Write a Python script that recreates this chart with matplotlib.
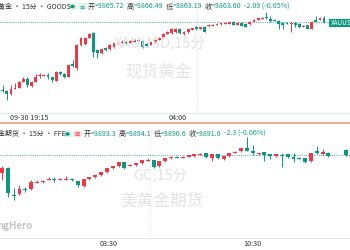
import numpy as np
import matplotlib
matplotlib.use('Agg')
import matplotlib.pyplot as plt
from matplotlib.patches import Rectangle, FancyBboxPatch, Circle
from matplotlib.lines import Line2D

plt.rcParams['font.family'] = ['Noto Sans CJK SC', 'DejaVu Sans']

# ---------------- data: spot gold XAUUSD 15min ----------------
spot_open = [3829.6, 3829.1, 3827.6, 3830.35, 3830.6, 3833.6, 3835.1, 3831.6, 3833.6, 3836.35,
             3836.7, 3837.1, 3835.85, 3834.1, 3838.6, 3837.35, 3836.1, 3842.35, 3840.6, 3852.1,
             3852.6, 3855.6, 3858.1, 3849.6, 3848.1, 3850.35, 3850.1, 3851.1, 3852.85, 3853.2,
             3853.6, 3853.1, 3853.85, 3854.1, 3854.1, 3852.6, 3852.1, 3853.1, 3854.6, 3855.85,
             3857.6, 3858.1, 3858.6, 3859.85, 3857.6, 3858.35, 3859.6, 3861.1, 3860.1, 3861.1,
             3861.35, 3861.85, 3862.35, 3862.35, 3862.6, 3862.6, 3863.6, 3862.1, 3863.1, 3862.6,
             3862.35, 3863.6, 3864.6, 3865.1, 3866.1, 3865.1, 3864.6, 3864.1, 3863.1, 3863.1,
             3862.35, 3863.1, 3862.6, 3861.1, 3861.85, 3860.1, 3864.6, 3864.6, 3865.72]
spot_close = [3829.1, 3827.6, 3830.1, 3830.6, 3833.6, 3835.1, 3832.1, 3833.6, 3836.1, 3836.85,
              3837.0, 3835.85, 3834.35, 3838.6, 3837.35, 3836.1, 3842.1, 3841.6, 3852.1, 3855.6,
              3855.35, 3857.6, 3848.6, 3848.1, 3850.1, 3849.6, 3852.1, 3852.85, 3853.35, 3853.6,
              3853.1, 3853.85, 3854.1, 3854.6, 3851.1, 3851.6, 3853.35, 3854.6, 3855.6, 3857.6,
              3858.6, 3860.1, 3859.85, 3858.1, 3858.6, 3859.85, 3860.35, 3860.1, 3860.85, 3858.6,
              3862.1, 3862.1, 3862.6, 3862.85, 3863.1, 3863.35, 3862.1, 3863.1, 3861.6, 3861.1,
              3863.6, 3864.6, 3865.35, 3865.6, 3865.35, 3864.1, 3864.1, 3862.6, 3862.1, 3862.7,
              3863.1, 3862.1, 3861.1, 3861.6, 3860.1, 3863.6, 3863.6, 3865.6, 3863.60]
spot_high = [3832.1, 3829.6, 3832.1, 3833.1, 3834.1, 3836.1, 3836.1, 3834.1, 3837.6, 3838.1,
             3837.6, 3838.1, 3836.1, 3839.1, 3839.1, 3838.1, 3842.6, 3844.6, 3852.6, 3856.1,
             3856.1, 3858.1, 3858.6, 3850.1, 3850.6, 3851.1, 3852.6, 3853.1, 3853.6, 3854.6,
             3854.1, 3854.6, 3855.1, 3855.1, 3854.6, 3853.1, 3853.6, 3855.1, 3856.1, 3858.1,
             3859.1, 3860.6, 3860.6, 3860.6, 3859.1, 3860.1, 3860.6, 3861.35, 3861.1, 3861.6,
             3862.35, 3862.35, 3862.85, 3863.1, 3863.35, 3863.6, 3863.85, 3863.35, 3863.35, 3862.85,
             3863.85, 3864.85, 3865.6, 3866.1, 3868.6, 3866.6, 3864.85, 3864.35, 3863.35, 3863.35,
             3863.6, 3863.35, 3862.85, 3861.85, 3862.1, 3863.85, 3866.6, 3866.1, 3866.49]
spot_low = [3828.6, 3824.6, 3827.1, 3830.1, 3830.35, 3833.35, 3831.1, 3831.1, 3833.35, 3835.6,
            3836.6, 3835.1, 3833.6, 3833.85, 3837.1, 3835.6, 3835.85, 3841.1, 3839.6, 3851.6,
            3852.1, 3855.35, 3846.1, 3845.6, 3847.6, 3849.1, 3849.6, 3850.6, 3852.6, 3853.1,
            3852.6, 3852.85, 3853.6, 3853.85, 3850.6, 3851.1, 3851.85, 3852.85, 3854.35, 3855.6,
            3857.35, 3857.6, 3858.1, 3857.6, 3857.1, 3858.1, 3859.35, 3859.6, 3859.85, 3858.35,
            3861.1, 3861.6, 3862.1, 3862.1, 3862.35, 3862.35, 3861.85, 3861.85, 3861.35, 3860.85,
            3862.1, 3863.35, 3864.35, 3864.85, 3865.1, 3863.6, 3863.85, 3860.1, 3860.1, 3862.6,
            3858.6, 3861.1, 3860.35, 3860.85, 3859.85, 3859.85, 3863.35, 3864.35, 3863.19]

# ---------------- data: COMEX gold GC 15min (nan = no trading) ----------------
nan = float('nan')
fut_open = [3882.0, 3884.5, 3871.25, 3871.5, 3874.0, 3874.0, 3877.25, 3877.5, 3878.75, 3879.25,
            3878.75, 3878.75, 3879.25, 3878.0, 3875.5, 3879.0, 3880.0, 3881.0, 3882.5, 3884.5,
            3885.5, 3887.5, 3885.75, 3886.0, 3887.0, 3888.25, 3888.5, 3885.5, 3888.0, 3889.5,
            3890.25, 3889.75, 3890.25, 3890.5, 3891.25, 3892.0, 3889.5, 3891.5, 3889.0, 3890.5,
            3892.25, 3893.0, 3894.5, 3893.25, 3891.5, 3892.5, 3891.5, 3890.5, 3891.25, 3891.5,
            3890.0, 3889.75, 3889.5, 3888.0, 3893.0, 3891.5, 3892.25, nan, nan, 3893.3]
fut_close = [3884.5, 3872.0, 3870.5, 3874.0, 3873.5, 3877.5, 3877.75, 3878.25, 3879.0, 3878.75,
             3879.25, 3879.25, 3878.75, 3876.0, 3879.0, 3880.0, 3881.0, 3882.5, 3884.5, 3885.5,
             3887.5, 3884.5, 3886.25, 3887.0, 3888.5, 3888.5, 3885.0, 3888.0, 3889.5, 3890.0,
             3889.75, 3890.25, 3891.0, 3891.5, 3891.75, 3890.0, 3891.5, 3889.5, 3890.5, 3892.0,
             3892.75, 3894.5, 3893.25, 3892.25, 3892.0, 3891.0, 3890.5, 3891.5, 3890.75, 3890.0,
             3889.0, 3889.25, 3887.5, 3892.0, 3892.0, 3892.5, 3890.5, nan, nan, 3891.0]
fut_high = [3885.5, 3885.0, 3874.5, 3876.0, 3875.0, 3878.5, 3878.5, 3878.5, 3880.0, 3880.25,
            3879.5, 3880.5, 3879.5, 3878.25, 3879.25, 3880.25, 3881.25, 3882.75, 3884.75, 3885.75,
            3887.75, 3887.75, 3886.5, 3887.25, 3888.75, 3889.5, 3888.75, 3888.25, 3889.75, 3890.25,
            3890.5, 3890.5, 3891.0, 3891.75, 3892.0, 3892.25, 3891.75, 3891.75, 3890.75, 3892.25,
            3893.0, 3894.75, 3900.0, 3896.0, 3892.25, 3892.75, 3891.75, 3891.75, 3892.0, 3891.75,
            3892.0, 3890.0, 3889.75, 3892.25, 3895.5, 3894.0, 3892.5, nan, nan, 3894.1]
fut_low = [3878.5, 3870.0, 3868.5, 3871.25, 3872.5, 3873.75, 3877.0, 3877.25, 3878.5, 3877.75,
           3878.5, 3878.5, 3878.25, 3875.0, 3875.25, 3878.75, 3879.75, 3880.75, 3882.25, 3884.25,
           3885.25, 3884.25, 3885.5, 3885.75, 3886.75, 3888.0, 3884.75, 3885.25, 3887.75, 3889.25,
           3889.5, 3889.5, 3890.0, 3890.25, 3891.0, 3889.75, 3888.0, 3889.25, 3888.75, 3890.25,
           3892.0, 3892.75, 3893.0, 3891.0, 3891.25, 3888.0, 3889.0, 3890.25, 3885.0, 3889.75,
           3887.75, 3889.0, 3887.25, 3887.75, 3891.75, 3891.25, 3890.25, nan, nan, 3890.6]

spot_title = "黄金 • 15分 • GOODS"
fut_title = "金期货 • 15分 • FFE"
spot_ohlc = ["3865.72", "3866.49", "3863.19", "3863.60"]
fut_ohlc = ["3893.3", "3894.1", "3890.6", "3891.0"]
spot_chg = "-2.09 (-0.05%)"
fut_chg = "-2.3 (-0.06%)"
ohlc_names = ["开", "高", "低", "收"]
spot_ticks = ["09-30 19:15", "04:00"]
fut_ticks = ["03:30", "10:30"]

UP = '#F23645'
DN = '#089981'
TXT = '#333333'
WM = '#E3E3E3'
HFS = 5.1

W, H = 350, 250
def fx(px):
    return px / W
def fy(py):
    return 1 - py / H

fig = plt.figure(figsize=(3.5, 2.5), dpi=100)
fig.patch.set_facecolor('white')
renderer = fig.canvas.get_renderer()

def width_px(t):
    bb = t.get_window_extent(renderer=renderer)
    return bb.width

def draw_candles(ax, o, h, l, c, w=0.68):
    for i, (oo, hh, ll, cc) in enumerate(zip(o, h, l, c)):
        if np.isnan(oo):
            continue
        col = UP if cc >= oo else DN
        ax.vlines(i, ll, hh, color=col, lw=0.7, zorder=3)
        hgt = max(abs(cc - oo), 0.3)
        ax.bar(i, hgt, bottom=min(oo, cc) - (hgt - abs(cc - oo)) / 2, width=w,
               color=col, linewidth=0, zorder=4)

def setup(ax):
    ax.set_facecolor('none')
    for s in ax.spines.values():
        s.set_visible(False)
    ax.set_xticks([])
    ax.set_yticks([])

# ---------------- top panel ----------------
ax1 = fig.add_axes([0, fy(112), 1, 112 / H])
setup(ax1)
sp1 = 4.12
ax1.set_xlim(-2.7 / sp1, (W - 2.7) / sp1)
ax1.set_ylim(3874.6 - 112 / 2, 3874.6)
draw_candles(ax1, spot_open, spot_high, spot_low, spot_close)
last1 = float(spot_close[-1])
ax1.plot([ax1.get_xlim()[0], (330 - 2.7) / sp1], [last1, last1], color=DN, lw=0.6,
         ls=(0, (1, 1.6)), zorder=2)
ax1.axvline((197 - 2.7) / sp1, color='#DDDDDD', lw=0.5, ls=(0, (2, 2)), zorder=1)

# ---------------- bottom panel ----------------
ax2 = fig.add_axes([0, fy(237), 1, 115 / H])
setup(ax2)
sp2 = 5.83
ax2.set_xlim(-2 / sp2, (W - 2) / sp2)
ax2.set_ylim(3968.5 - 237 / 2, 3968.5 - 122 / 2)
draw_candles(ax2, fut_open, fut_high, fut_low, fut_close)
last2 = float(fut_close[-1])
ax2.axhline(last2, color=DN, lw=0.6, ls=(0, (1, 1.6)), zorder=2)
ax2.axvline((150 - 2) / sp2, color='#DDDDDD', lw=0.5, ls=(0, (2, 2)), zorder=1)

# ---------------- lines ----------------
fig.add_artist(Line2D([0, 1], [fy(112.5), fy(112.5)], color='#E6E6E6', lw=0.7))
fig.add_artist(Line2D([0, 1], [fy(122.5), fy(122.5)], color='#F2A58A', lw=1.3))
fig.add_artist(Line2D([0, 1], [fy(237.5), fy(237.5)], color='#E6E6E6', lw=0.7))

# ---------------- watermarks ----------------
fig.text(fx(160), fy(43), "XAUUSD,15分", fontsize=10.5, color=WM, ha='center', va='center', zorder=1)
fig.text(fx(159), fy(72), "现货黄金", fontsize=12, color=WM, ha='center', va='center', zorder=1)
fig.text(fx(160), fy(175), "GC,15分", fontsize=10.5, color=WM, ha='center', va='center', zorder=1)
fig.text(fx(162), fy(201), "美黄金期货", fontsize=12, color=WM, ha='center', va='center', zorder=1)
fig.text(fx(33), fy(226), "ngHero", fontsize=7, color='#C4C4C4', ha='right', va='center',
         fontweight='bold', zorder=1)

# ---------------- headers ----------------
def header(py, title, vals, chg, x_title, x_icons, x_vals, x_chg, pink):
    fig.text(fx(x_title), fy(py), title, fontsize=5.0, color=TXT, ha='left',
             va='center', zorder=6)
    fig.add_artist(FancyBboxPatch((fx(x_icons), fy(py + 3.5)), 9 / W, 7 / H,
                                  boxstyle='round,pad=0,rounding_size=0.008',
                                  transform=fig.transFigure, color='#DDF3EE', lw=0))
    fig.add_artist(Circle((fx(x_icons + 4.5), fy(py)), 1.5 / W, transform=fig.transFigure,
                          color=DN))
    fig.add_artist(FancyBboxPatch((fx(x_icons + 10), fy(py + 3.5)), 9 / W, 7 / H,
                                  boxstyle='round,pad=0,rounding_size=0.008',
                                  transform=fig.transFigure,
                                  color='#FBE3E5' if pink else '#DDF3EE', lw=0))
    fig.text(fx(x_icons + 14.5), fy(py), "≡" if not pink else "⊠", fontsize=4.5,
             color=UP if pink else DN, ha='center', va='center', family='DejaVu Sans', zorder=6)
    cur = 0
    for name, v, xv in zip(ohlc_names, vals, x_vals):
        x0 = max(xv, cur + 2)
        t1 = fig.text(fx(x0), fy(py), name, fontsize=HFS, color=TXT, ha='left', va='center',
                      zorder=6)
        x1 = x0 + width_px(t1)
        t2 = fig.text(fx(x1), fy(py), "=" + v, fontsize=HFS, color=DN, ha='left', va='center',
                      zorder=6)
        cur = x1 + width_px(t2)
    fig.text(fx(max(x_chg, cur + 3)), fy(py), chg, fontsize=HFS, color=DN, ha='left',
             va='center', zorder=6)

header(6.5, spot_title, spot_ohlc, spot_chg, -1.5, 68, [88, 127, 163, 203], 240, False)
header(134, fut_title, fut_ohlc, fut_chg, -2.5, 63, [84, 117, 151, 187], 224, True)

# price label
fig.add_artist(Rectangle((fx(329), fy(27)), 22 / W, 8 / H, transform=fig.transFigure,
                         color=DN, lw=0, zorder=7))
fig.text(fx(331), fy(23), "XAUUSD", fontsize=4.6, color='white', ha='left', va='center', zorder=8)

# time labels
fig.text(fx(29), fy(117.5), spot_ticks[0], fontsize=5.2, color=TXT, ha='center', va='center')
fig.text(fx(178), fy(117.5), spot_ticks[1], fontsize=5.2, color=TXT, ha='center', va='center')
fig.text(fx(109), fy(244), fut_ticks[0], fontsize=5.2, color=TXT, ha='center', va='center')
fig.text(fx(252), fy(244), fut_ticks[1], fontsize=5.2, color=TXT, ha='center', va='center')

fig.savefig('out.png', dpi=100, facecolor='white')
